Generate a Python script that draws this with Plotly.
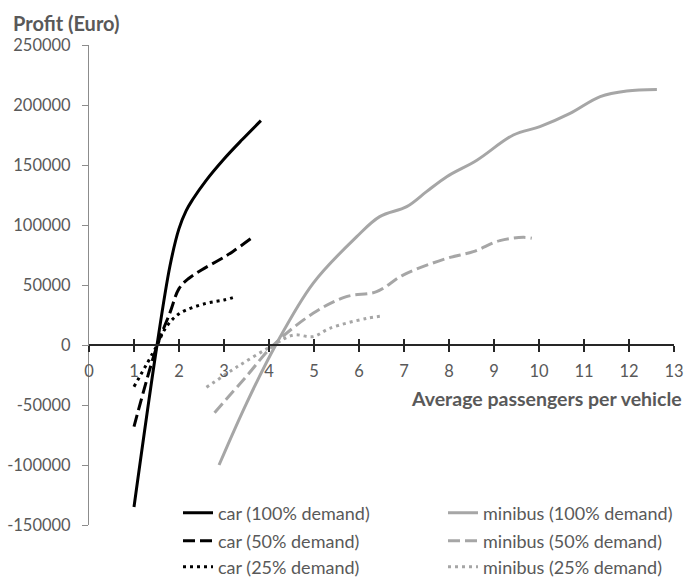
import plotly.graph_objects as go

# ---- data ----
car100_x = [1.0, 1.5, 1.8, 2.0, 2.16, 2.3, 2.6, 3.0, 3.4, 3.82]
car100_y = [-135000, -3000, 66000, 97000, 112000, 121000, 137000, 155000, 171000, 187000]

car50_x = [1.0, 1.5, 1.8, 2.0, 2.2, 2.5, 2.9, 3.2, 3.59]
car50_y = [-68000, -2000, 27000, 47000, 55000, 62500, 71000, 78000, 88500]

car25_x = [1.0, 1.5, 1.7, 2.0, 2.6, 3.0, 3.28]
car25_y = [-34700, -1000, 14000, 26000, 34700, 37500, 40500]

mini100_x = [2.89, 3.5, 4.15, 4.98, 5.95, 6.46, 7.06, 7.5, 7.95, 8.62, 9.43, 10.02, 10.69, 11.36, 11.95, 12.62]
mini100_y = [-100000, -48600, 0, 51400, 90300, 107000, 115300, 127800, 140300, 154000, 175000, 182000, 193000, 207000, 211700, 213000]

mini50_x = [2.79, 3.5, 4.1, 4.98, 5.72, 6.39, 6.98, 7.95, 8.54, 9.13, 9.65, 9.84]
mini50_y = [-56400, -26000, 0, 26400, 40300, 44400, 58300, 72200, 77800, 87000, 89700, 89000]

mini25_x = [2.61, 3.3, 4.1, 4.54, 4.98, 5.35, 6.17, 6.54]
mini25_y = [-35300, -18000, 0, 8300, 7000, 13900, 22200, 24200]

x_ticks = list(range(0, 14))
y_ticks = [-150000, -100000, -50000, 0, 50000, 100000, 150000, 200000, 250000]
y_tick_labels = [str(v) for v in y_ticks]

series = [
    ("car (100% demand)", car100_x, car100_y, "#000000", "solid", "legend"),
    ("minibus (100% demand)", mini100_x, mini100_y, "#a6a6a6", "solid", "legend"),
    ("car (50% demand)", car50_x, car50_y, "#000000", "12px,5px", "legend2"),
    ("minibus (50% demand)", mini50_x, mini50_y, "#a6a6a6", "12px,5px", "legend2"),
    ("car (25% demand)", car25_x, car25_y, "#000000", "3px,4px", "legend3"),
    ("minibus (25% demand)", mini25_x, mini25_y, "#a6a6a6", "3px,4px", "legend3"),
]

FONT = "Lato"
TXT = "#595959"
FS_TICK = 16.5
FS_LEG = 18
FSB = 20

fig = go.Figure()
for name, xs, ys, col, dash, lg in series:
    fig.add_trace(go.Scatter(
        x=xs, y=ys, mode="lines", name=name, legend=lg,
        line=dict(color=col, width=3, dash=dash, shape="spline", smoothing=1.0),
    ))

# invisible trace to carry the upper half of the crossing x ticks
fig.add_trace(go.Scatter(x=[0], y=[0], xaxis="x2", mode="markers",
                         marker=dict(opacity=0), showlegend=False, hoverinfo="skip"))

zero_pos = 150000 / 400000

axis_common = dict(showgrid=False, zeroline=False)
fig.update_layout(
    width=689, height=577,
    margin=dict(l=89, r=15, t=45, b=52, autoexpand=False),
    paper_bgcolor="white", plot_bgcolor="white",
    font=dict(family=FONT, size=FS_TICK, color=TXT),
    xaxis=dict(range=[0, 13], tickvals=x_ticks, anchor="free", position=zero_pos,
               showline=True, linecolor="#262626", linewidth=1.5,
               ticks="outside", ticklen=6, tickwidth=1.5, tickcolor="#262626",
               ticklabelstandoff=5,
               tickfont=dict(family=FONT, size=FS_TICK, color=TXT), **axis_common),
    xaxis2=dict(range=[0, 13], tickvals=x_ticks, anchor="free", position=zero_pos,
                overlaying="x", showline=False, showticklabels=False,
                ticks="inside", ticklen=6, tickwidth=1.5, tickcolor="#262626",
                **axis_common),
    yaxis=dict(range=[-150000, 250000], tickvals=y_ticks, ticktext=y_tick_labels,
               showline=True, linecolor="#8c8c8c", linewidth=1,
               ticks="outside", ticklen=6, tickwidth=1, tickcolor="#8c8c8c",
               ticklabelstandoff=8,
               tickfont=dict(family=FONT, size=FS_TICK, color=TXT), **axis_common),
    showlegend=True,
)

leg_common = dict(orientation="h", xref="container", yref="container",
                  xanchor="left", yanchor="middle", x=178 / 689,
                  entrywidth=220, entrywidthmode="pixels",
                  bgcolor="rgba(0,0,0,0)", font=dict(family=FONT, size=FS_LEG, color=TXT),
                  traceorder="normal")
fig.update_layout(
    legend=dict(y=1 - 513 / 577, **leg_common),
    legend2=dict(y=1 - 541 / 577, **leg_common),
    legend3=dict(y=1 - 567 / 577, **leg_common),
)

fig.add_annotation(text="<b>Profit (Euro)</b>", xref="paper", yref="paper",
                   x=-78 / 585, y=1 + 22 / 480, xanchor="left", yanchor="middle",
                   showarrow=False, font=dict(family=FONT, size=FSB, color=TXT))
fig.add_annotation(text="<b>Average passengers per vehicle</b>", xref="paper", yref="paper",
                   x=1 + 10 / 585, y=(525 - 398) / 480, xanchor="right", yanchor="middle",
                   showarrow=False, font=dict(family=FONT, size=19.5, color=TXT))

fig.write_html("out.html", config={"displayModeBar": False},
               post_script="document.body.style.margin='0';")
